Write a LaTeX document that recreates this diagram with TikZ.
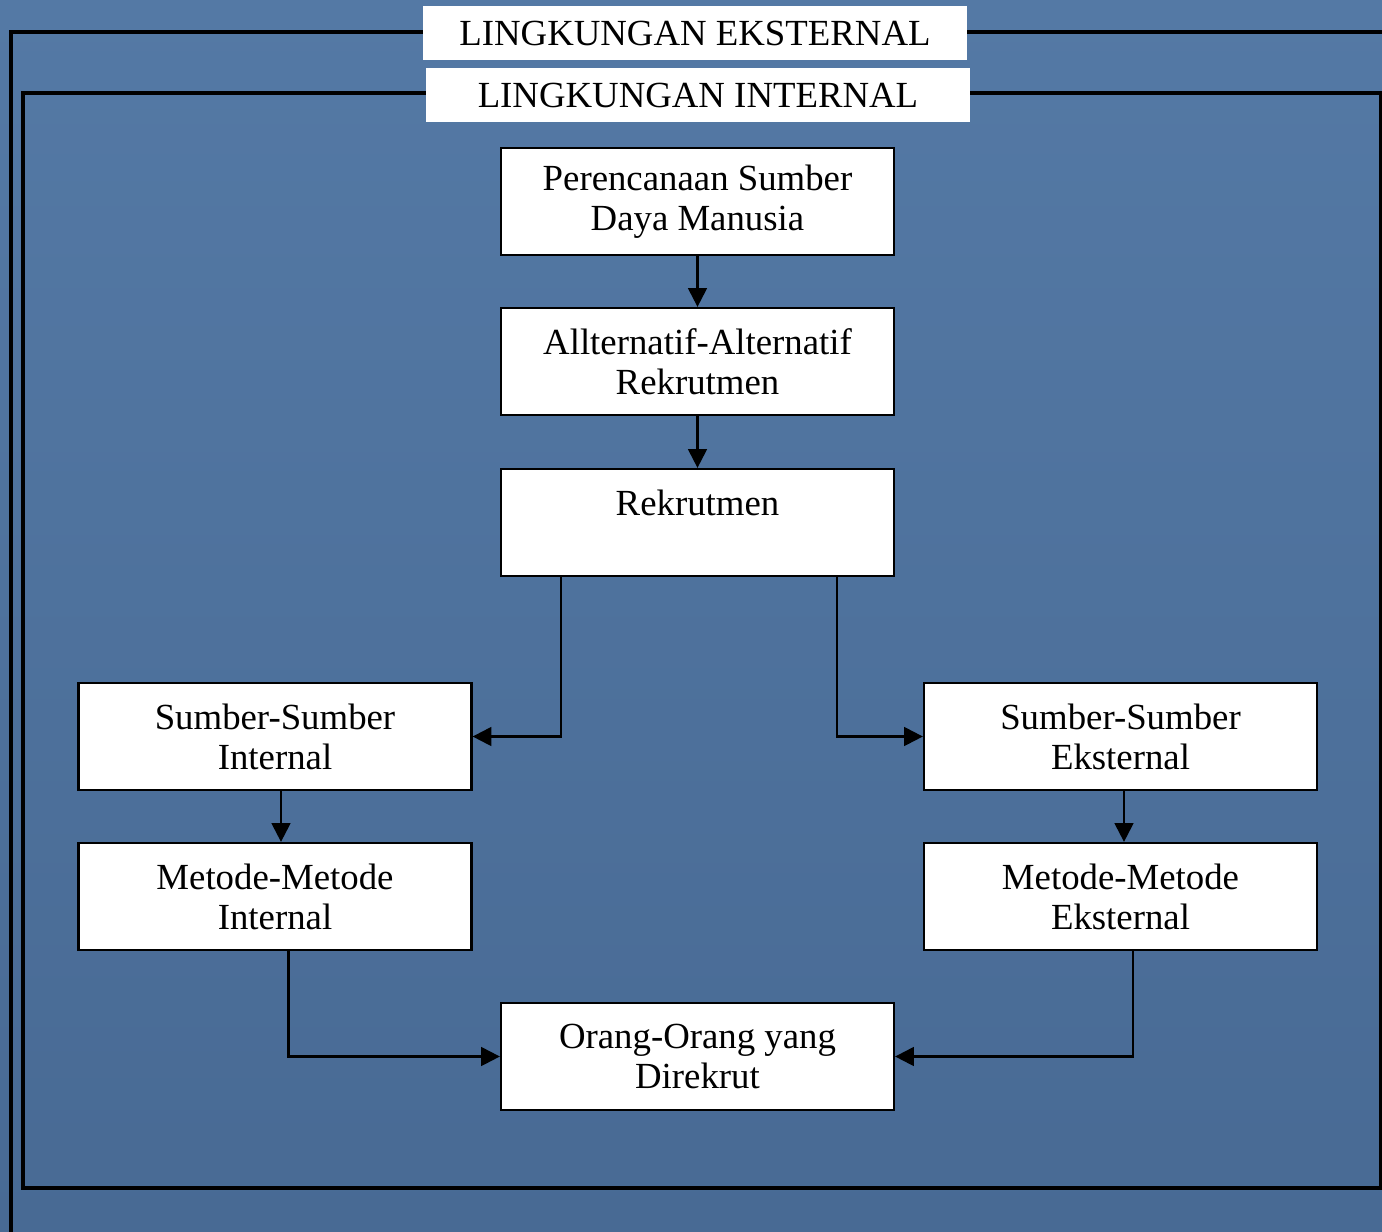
\documentclass[tikz,border=0pt]{standalone}
\usepackage{fontspec}
\setmainfont{Liberation Serif}
\usetikzlibrary{arrows.meta,calc}
\definecolor{bgtop}{RGB}{84,121,165}
\definecolor{bgbot}{RGB}{72,106,148}
\begin{document}
\begin{tikzpicture}[x=0.75pt,y=-0.75pt,
  txt/.style={font=\fontsize{27.6pt}{30pt}\selectfont},
  box/.style={txt,draw=black,fill=white,line width=1.7pt,minimum width=294.75pt,minimum height=80.25pt,inner sep=0pt,align=center,text=black},
  lab/.style={txt,fill=white,minimum width=408pt,minimum height=40.5pt,inner sep=0pt,text=black},
  frame/.style={line width=2.4pt,draw=black},
  arr/.style={line width=1.7pt,draw=black,-{Triangle[length=14pt,width=14pt]}}]
\useasboundingbox (0,0) rectangle (1382,1232);
\fill[top color=bgtop,bottom color=bgbot] (0,0) rectangle (1382,1232);
% frames
\draw[frame] (430,32) -- (11,32) -- (11,1240);
\draw[frame] (960,32) -- (1390,32);
\draw[frame] (430,93) -- (23,93) -- (23,1188) -- (1381,1188) -- (1381,93) -- (960,93);
% labels
\node[lab] (EXT) at (695,33) {LINGKUNGAN EKSTERNAL};
\node[lab] (INT) at (698,95) {LINGKUNGAN INTERNAL};
% boxes
\node[box] (P) at (697.5,201.5) {Perencanaan Sumber\\Daya Manusia};
\node[box] (A) at (697.5,361.5) {Allternatif-Alternatif\\Rekrutmen};
\node[box] (R) at (697.5,522.5) {Rekrutmen\\\mbox{}};
\node[box] (SI) at (275,736.5) {Sumber-Sumber\\Internal};
\node[box] (SE) at (1120.5,736.5) {Sumber-Sumber\\Eksternal};
\node[box] (MI) at (275,896.5) {Metode-Metode\\Internal};
\node[box] (ME) at (1120.5,896.5) {Metode-Metode\\Eksternal};
\node[box] (O) at (697.5,1056.5) {Orang-Orang yang\\Direkrut};
% connectors
\draw[arr] (P) -- (A);
\draw[arr] (A) -- (R);
\draw[arr] ($(R.south west)+(61,0)$) |- (SI.east);
\draw[arr] ($(R.south east)+(-58,0)$) |- (SE.west);
\draw[arr] ($(SI.south)+(6,0)$) -- ($(MI.north)+(6,0)$);
\draw[arr] ($(SE.south)+(3.5,0)$) -- ($(ME.north)+(3.5,0)$);
\draw[arr] ($(MI.south west)+(211,0)$) |- (O.west);
\draw[arr] ($(ME.south west)+(210,0)$) |- (O.east);
\end{tikzpicture}
\end{document}
